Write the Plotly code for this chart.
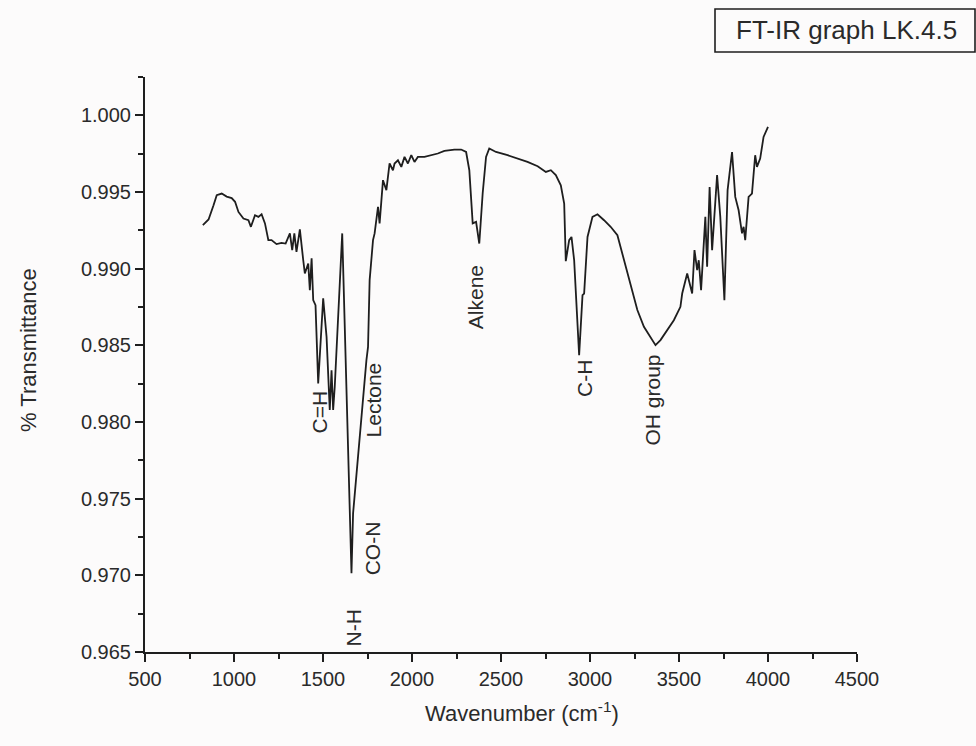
import plotly.graph_objects as go

wavenumber = [825, 857, 885, 903, 931, 959, 987, 1006, 1025, 1053, 1081, 1095, 1118, 1137, 1155,
              1174, 1193, 1211, 1239, 1267, 1290, 1314, 1327, 1339, 1351, 1370, 1389, 1398, 1417,
              1426, 1436, 1445, 1458, 1473, 1501, 1520, 1538, 1548, 1557, 1566, 1608, 1660, 1669,
              1697, 1716, 1744, 1753, 1762, 1781, 1790, 1809, 1818, 1837, 1856, 1874, 1893, 1902,
              1921, 1940, 1958, 1977, 1996, 2014, 2033, 2070, 2108, 2145, 2182, 2238, 2276, 2304,
              2322, 2341, 2360, 2378, 2397, 2416, 2434, 2472, 2537, 2593, 2649, 2706, 2752, 2780,
              2808, 2836, 2855, 2864, 2883, 2896, 2911, 2939, 2958, 2967, 2986, 3014, 3042, 3079,
              3116, 3154, 3191, 3228, 3266, 3303, 3340, 3368, 3396, 3434, 3471, 3508, 3518, 3546,
              3574, 3587, 3602, 3611, 3624, 3648, 3658, 3672, 3686, 3714, 3732, 3755, 3773, 3798,
              3816, 3835, 3854, 3863, 3872, 3891, 3910, 3928, 3938, 3956, 3975, 4000]

transmittance = [0.99284, 0.99321, 0.99414, 0.99479, 0.99490, 0.99470, 0.99460, 0.99436, 0.99370,
                 0.99327, 0.99316, 0.99273, 0.99349, 0.99338, 0.99355, 0.99295, 0.99186, 0.99186,
                 0.99160, 0.99168, 0.99164, 0.99230, 0.99121, 0.99230, 0.99110, 0.99256, 0.99055,
                 0.98969, 0.99034, 0.98860, 0.99067, 0.98795, 0.98762, 0.98252, 0.98806, 0.98555,
                 0.98078, 0.98338, 0.98078, 0.98230, 0.99230, 0.97013, 0.97404, 0.97795, 0.98012,
                 0.98404, 0.98490, 0.98925, 0.99186, 0.99230, 0.99403, 0.99295, 0.99577, 0.99512,
                 0.99686, 0.99642, 0.99686, 0.99707, 0.99664, 0.99729, 0.99686, 0.99740, 0.99696,
                 0.99729, 0.99729, 0.99740, 0.99751, 0.99768, 0.99777, 0.99777, 0.99761, 0.99642,
                 0.99295, 0.99305, 0.99164, 0.99490, 0.99729, 0.99784, 0.99761, 0.99740, 0.99718,
                 0.99696, 0.99668, 0.99631, 0.99642, 0.99610, 0.99544, 0.99425, 0.99049, 0.99186,
                 0.99207, 0.99055, 0.98436, 0.98827, 0.98838, 0.99207, 0.99338, 0.99355, 0.99316,
                 0.99273, 0.99218, 0.99055, 0.98881, 0.98730, 0.98621, 0.98555, 0.98501, 0.98534,
                 0.98599, 0.98664, 0.98751, 0.98838, 0.98969, 0.98838, 0.99121, 0.98990, 0.99055,
                 0.98860, 0.99338, 0.99012, 0.99533, 0.99121, 0.99610, 0.99338, 0.98795, 0.99512,
                 0.99761, 0.99468, 0.99381, 0.99230, 0.99273, 0.99186, 0.99468, 0.99490, 0.99740,
                 0.99664, 0.99718, 0.99859, 0.99924]

peak_labels = ["C=H", "N-H", "CO-N", "Lectone", "Alkene", "C-H", "OH group"]
peak_label_x = [1480, 1671, 1777, 1783, 2354, 2965, 3351]
peak_label_y = [0.98065, 0.96656, 0.97178, 0.98143, 0.98814, 0.98286, 0.98143]

x_ticks = [500, 1000, 1500, 2000, 2500, 3000, 3500, 4000, 4500]
y_ticks = [0.965, 0.970, 0.975, 0.980, 0.985, 0.990, 0.995, 1.000]

FONT = "Liberation Sans, Arial, sans-serif"
TXT = "#2a2a2a"
LINE = "#1e1e1e"

W, H = 976, 746
L, T, R, B = 145, 77, 119, 94
PW, PH = W - L - R, H - T - B


def px(xp):
    return (xp - L) / PW


def py(yp):
    return (H - B - yp) / PH


fig = go.Figure()
fig.add_trace(go.Scatter(x=wavenumber, y=transmittance, mode="lines",
                         line=dict(color=LINE, width=1.8), showlegend=False,
                         hoverinfo="x+y"))

for t, xv, yv in zip(peak_labels, peak_label_x, peak_label_y):
    fig.add_annotation(x=xv, y=yv, text=t, showarrow=False, textangle=-90,
                       xanchor="center", yanchor="middle",
                       font=dict(family=FONT, size=21, color=TXT))

# axis titles
fig.add_annotation(xref="paper", yref="paper", x=px(522), y=py(712),
                   xanchor="center", yanchor="middle",
                   text="Wavenumber (cm<sup>-1</sup>)", showarrow=False,
                   font=dict(family=FONT, size=22, color=TXT))
fig.add_annotation(xref="paper", yref="paper", x=px(28), y=py(350),
                   xanchor="center", yanchor="middle",
                   text="% Transmittance", showarrow=False, textangle=-90,
                   font=dict(family=FONT, size=22, color=TXT))

# boxed title
fig.add_shape(type="rect", xref="paper", yref="paper",
              x0=px(715), x1=px(975), y0=py(52), y1=py(9),
              line=dict(color=LINE, width=1.6))
fig.add_annotation(xref="paper", yref="paper", x=px(846), y=py(30),
                   xanchor="center", yanchor="middle",
                   text="FT-IR graph LK.4.5", showarrow=False,
                   font=dict(family=FONT, size=26, color=TXT))

axis_common = dict(showgrid=False, zeroline=False, showline=True, linecolor=LINE,
                   linewidth=2, ticks="outside", ticklen=8, tickwidth=2, tickcolor=LINE,
                   tickfont=dict(family=FONT, size=20, color=TXT))

fig.update_xaxes(range=[500, 4500], tickmode="array", tickvals=x_ticks,
                 ticktext=[str(v) for v in x_ticks],
                 minor=dict(ticks="outside", ticklen=5, tickwidth=2, tickcolor=LINE, dtick=250),
                 **axis_common)
fig.update_yaxes(range=[0.965, 1.0025], tickmode="array", tickvals=y_ticks,
                 ticktext=[f"{v:.3f}" for v in y_ticks],
                 minor=dict(ticks="outside", ticklen=5, tickwidth=2, tickcolor=LINE, dtick=0.0025),
                 **axis_common)

fig.update_layout(width=W, height=H, margin=dict(l=L, r=R, t=T, b=B, autoexpand=False),
                  paper_bgcolor="#fcfbfb", plot_bgcolor="#fcfbfb",
                  font=dict(family=FONT, color=TXT))

fig.write_html("out.html", config={"displayModeBar": False},
               post_script="document.body.style.margin='0';document.body.style.overflow='hidden';"
                           "document.documentElement.style.background='#fcfbfb';")
